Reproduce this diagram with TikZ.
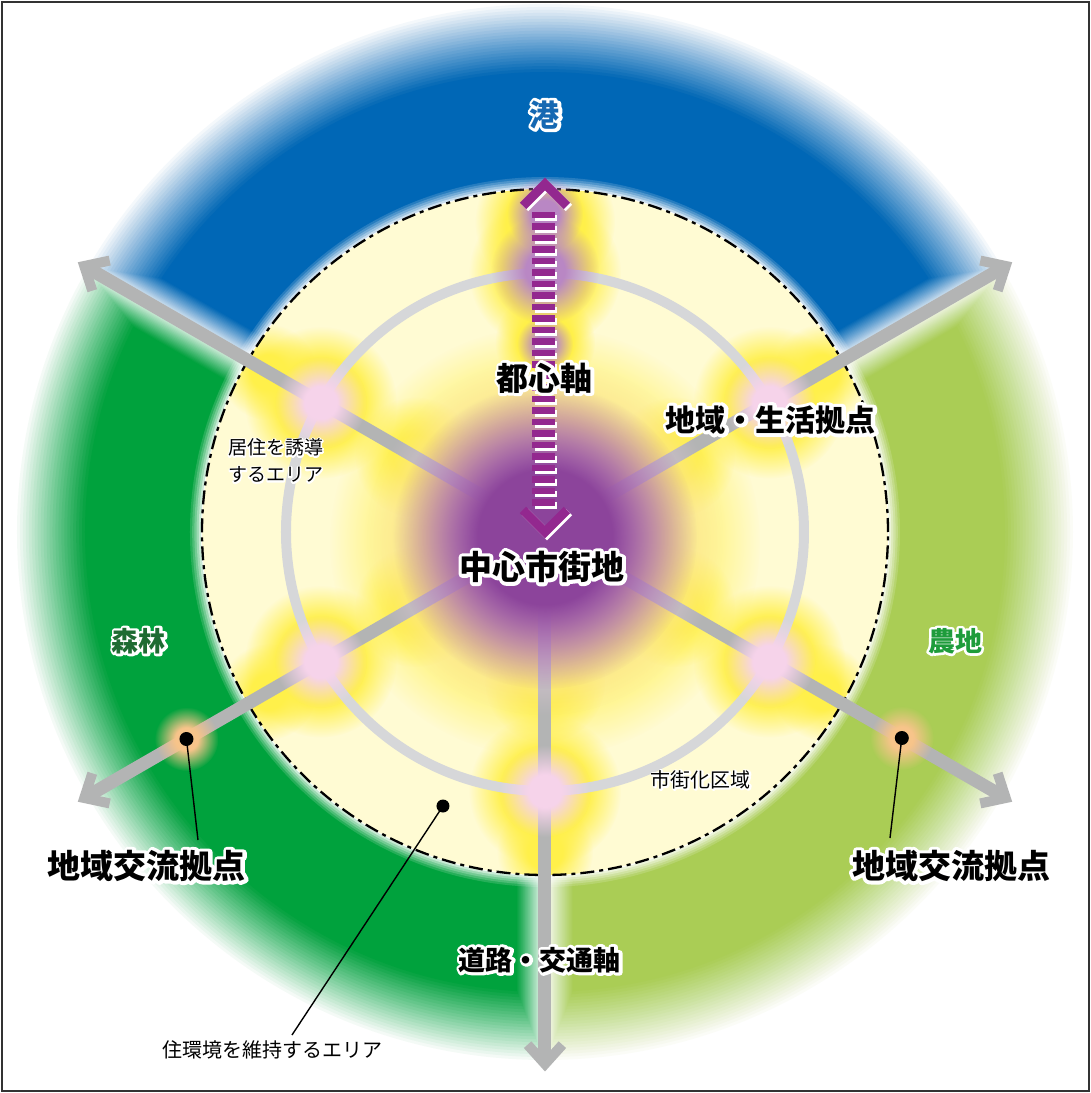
\documentclass[tikz,border=0pt]{standalone}
\usepackage{fontspec}
\setmainfont{Noto Sans CJK JP}
\usetikzlibrary{calc,fadings}
\definecolor{blueS}{HTML}{0067B6}
\definecolor{portT}{HTML}{1668B2}
\definecolor{dgreenS}{HTML}{00A23D}
\definecolor{lgreenS}{HTML}{AACD55}
\definecolor{paleY}{HTML}{FFFBD3}
\definecolor{glowY}{HTML}{FFF04A}
\definecolor{pinkN}{HTML}{F6D3EA}
\definecolor{purpC}{HTML}{8C449B}
\definecolor{lavT}{HTML}{B987C4}
\definecolor{axisP}{HTML}{93288F}
\definecolor{roadG}{HTML}{B3B4B4}
\definecolor{ringG}{HTML}{D6D7D9}
\definecolor{orangeG}{HTML}{F7C48A}
\definecolor{forestT}{HTML}{1E6B32}
\definecolor{farmT}{HTML}{1E9C3B}
\pgfdeclareradialshading{softsh}{\pgfpointorigin}{color(0bp)=(white); color(9bp)=(white); color(25bp)=(black); color(50bp)=(black)}
\pgfdeclarefading{softf}{\pgfuseshading{softsh}}
\pgfdeclareradialshading{edgesh}{\pgfpointorigin}{color(0bp)=(white); color(14bp)=(white); color(25bp)=(black); color(50bp)=(black)}
\pgfdeclarefading{edgef}{\pgfuseshading{edgesh}}
\pgfdeclareradialshading{midsh}{\pgfpointorigin}{color(0bp)=(white); color(11bp)=(white); color(25bp)=(black); color(50bp)=(black)}
\pgfdeclarefading{midf}{\pgfuseshading{midsh}}
% text with a white outline: stroked white copy under the coloured text
\newcommand\halo[3]{%
  \rlap{\color{white}\special{pdf:literal direct 1 Tr #1 w 1 j 1 1 1 RG}#3\special{pdf:literal direct 0 Tr}}%
  {\color{#2}#3}}
\begin{document}
\begin{tikzpicture}[x=1pt,y=1pt,
  roadline/.style={draw=roadG, line width=13pt, line cap=butt},
  roadtip/.style={draw=roadG, line width=10pt, line join=miter, line cap=butt},
  glowfill/.style={fill=#1, path fading=softf},
  yglow/.style={fill=glowY, path fading=edgef},
  blackdot/.style={circle, fill=black, inner sep=0pt, minimum size=14pt},
  lbl/.style={inner sep=0pt, font=\bfseries\fontsize{#1}{#1}\selectfont},
  smalltxt/.style={inner sep=0pt, font=\fontsize{#1}{#1}\selectfont},
  leader/.style={draw=black, line width=1.4pt}]
\useasboundingbox (-545,-561) rectangle (546,532);
\fill[white] (-545,-561) rectangle (546,532);
% outer sectors with soft edges
\foreach \col/\aa in {blueS/30, dgreenS/150, lgreenS/270}{
  \foreach \k in {1,...,24}{
    \pgfmathsetmacro\R{528-68*(\k-1)/23}
    \pgfmathsetmacro\dd{(1+27*(\k-1)/23)*1.1547}
    \pgfmathsetmacro\op{1/(25-\k)}
    \pgfmathsetmacro\bb{\aa+60}
    \pgfmathsetmacro\cc{\aa+120}
    \pgfmathsetmacro\cx{\dd*cos(\bb)}
    \pgfmathsetmacro\cy{\dd*sin(\bb)}
    \begin{scope}
      \clip (0,0) circle (\R);
      \fill[\col, opacity=\op] (\cx,\cy) -- ++(\aa:1200) -- ($(\cx,\cy)+(\bb:2400)$) -- ($(\cx,\cy)+(\cc:1200)$) -- cycle;
    \end{scope}
  }
}
% white glow around urban disk
\foreach \k in {1,...,6}{
  \pgfmathsetmacro\R{355-11*(\k-1)/5}
  \pgfmathsetmacro\op{0.9/(7-\k)}
  \fill[white, opacity=\op] (0,0) circle (\R);
}
\coordinate (c) at (0,0);
\fill[paleY] (c) circle (343);
% yellow glows
\begin{scope}
  \clip (0,0) circle (343);
  \fill[yglow] (0,-10) circle (215);
  \foreach \a in {90,150,210,270,330,30} \fill[yglow] (\a:259) circle (76);
  \foreach \a in {150,210,270,330,30} \fill[glowfill=glowY] (\a:320) circle (48);
  \foreach \a in {150,210,270,330,30} \fill[glowfill=glowY] (\a:150) circle (60);
  \fill[yglow] (0,310) circle (70);
  \fill[yglow] (0,190) circle (50);
\end{scope}
% ring and boundary
\draw[ringG, line width=10pt] (c) circle (259);
\draw[black, line width=2.3pt, dash pattern=on 14pt off 5pt on 4pt off 5pt] (c) circle (343);
% roads
\foreach \a in {150,210,270,330,30}{
  \coordinate (rv\a) at (\a:532);
  \draw[roadline] (c) -- (rv\a);
  \draw[roadtip] ($(rv\a)+(\a+138:26)$) -- (rv\a) -- ($(rv\a)+(\a-138:26)$);
}
% hubs
\fill[glowfill=pinkN] (0,-5) circle (178);
\fill[purpC, path fading=midf] (0,-5) circle (152);
\foreach \a in {150,210,270,330,30} \fill[glowfill=pinkN] (\a:259) circle (46);
\fill[glowfill=lavT] (0,262) circle (54);
\fill[glowfill=lavT] (0,318) circle (38);
\fill[glowfill=lavT] (0,188) circle (28);
% regional exchange points
\fill[glowfill=orangeG] (210:414) circle (32);
\fill[glowfill=orangeG] (330:412) circle (32);
\node[blackdot] (dotL) at (210:414) {};
\node[blackdot] (dotR) at (330:412) {};
\node[blackdot, minimum size=13pt] (dotIn) at (-102,-274) {};
% central axis
\foreach \i in {0,...,25}{
  \pgfmathsetmacro\yy{317-\i*11.48}
  \fill[white] (-10,\yy-6.5) rectangle (12.5,\yy-3.5);
  \fill[white] (10,\yy-6.5) rectangle (12.5,\yy);
  \fill[axisP] (-12.5,\yy-3.5) rectangle (10,\yy+3);
}
\draw[white, line width=9pt, line join=miter] (-20,324) -- (2,346) -- (24,324);
\draw[axisP, line width=9pt, line join=miter] (-22,326) -- (0,348) -- (22,326);
\draw[white, line width=9pt, line join=miter] (-20,20) -- (2,-2) -- (24,20);
\draw[axisP, line width=9pt, line join=miter] (-22,22) -- (0,0) -- (22,22);
% labels
\node[lbl=30] (port) at (0,417) {\halo{6}{portT}{港}};
\node[lbl=32] (axisLbl) at (0,154) {\halo{6}{black}{都心軸}};
\node[lbl=30] (hubLbl) at (226,112) {\halo{7}{black}{地域・生活拠点}};
\node[inner sep=0pt, anchor=west, font=\fontsize{19}{27}\selectfont] (resid) at (-317,69) {\halo{3}{black}{\begin{tabular}{@{}l@{}}居住を誘導\\するエリア\end{tabular}}};
\node[lbl=33] (cbd) at (-3,-35) {\halo{7}{black}{中心市街地}};
\node[lbl=27] (forest) at (-406,-109) {\halo{5}{forestT}{森林}};
\node[lbl=27] (farm) at (410,-109) {\halo{5}{farmT}{農地}};
\node[smalltxt=20] (urban) at (156,-248) {\halo{3}{black}{市街化区域}};
\node[lbl=33] (exL) at (-398,-334) {\halo{7}{black}{地域交流拠点}};
\node[lbl=33] (exR) at (406,-334) {\halo{7}{black}{地域交流拠点}};
\node[lbl=27] (roadLbl) at (-5,-428) {\halo{6}{black}{道路・交通軸}};
\node[smalltxt=20] (keep) at (-272,-518) {住環境を維持するエリア};
% leaders
\coordinate (eL) at (-347,-308);
\coordinate (eR) at (345,-306);
\coordinate (eIn) at (-253,-503);
\draw[leader] (dotL.center) -- (eL);
\draw[leader] (dotR.center) -- (eR);
\draw[leader] (dotIn.center) -- (eIn);
% frame
\draw[black!80, line width=1.5pt] (-543,-559) rectangle (544,530);
\end{tikzpicture}
\end{document}
